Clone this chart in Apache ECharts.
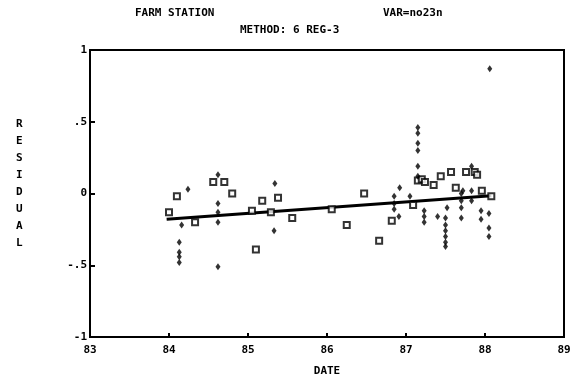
<!DOCTYPE html>
<html><head><meta charset="utf-8">
<script src="https://cdn.jsdelivr.net/npm/echarts@6/dist/echarts.min.js"></script>
<style>html,body{margin:0;padding:0;background:#fff}#c{width:584px;height:383px}</style>
</head><body><div id="c"></div>
<script>
// Open markers (o / squares)
const openX = [84.0,84.1,84.33,84.56,84.7,84.8,85.05,85.18,85.1,85.29,85.38,85.56,86.06,86.25,86.47,86.66,86.82,87.09,87.15,87.2,87.24,87.35,87.44,87.57,87.63,87.76,87.87,87.9,87.96,88.08];
const openY = [-0.13,-0.02,-0.2,0.08,0.08,0.0,-0.12,-0.05,-0.39,-0.13,-0.03,-0.17,-0.11,-0.22,0.0,-0.33,-0.19,-0.08,0.09,0.1,0.08,0.06,0.12,0.15,0.04,0.15,0.15,0.13,0.02,-0.02];
// Plus markers
const plusX = [84.16,84.13,84.13,84.13,84.13,84.24,84.62,84.62,84.62,84.62,84.62,85.34,85.33,86.92,86.85,86.85,86.85,86.91,87.05,87.15,87.15,87.15,87.15,87.15,87.15,87.23,87.23,87.23,87.4,87.52,87.5,87.5,87.5,87.5,87.5,87.5,87.7,87.7,87.7,87.7,87.72,87.83,87.83,87.83,87.95,87.95,88.05,88.05,88.05,88.06];
const plusY = [-0.22,-0.34,-0.41,-0.44,-0.48,0.03,0.13,-0.07,-0.13,-0.2,-0.51,0.07,-0.26,0.04,-0.02,-0.07,-0.11,-0.16,-0.02,0.46,0.42,0.35,0.3,0.19,0.12,-0.12,-0.16,-0.2,-0.16,-0.1,-0.17,-0.22,-0.26,-0.3,-0.34,-0.37,0.0,-0.05,-0.1,-0.17,0.02,0.19,0.02,-0.05,-0.12,-0.18,-0.14,-0.24,-0.3,0.87];
// Regression line endpoints
const fitX = [83.97, 88.08];
const fitY = [-0.18, -0.015];
const xTicks = ['83','84','85','86','87','88','89'];
const yTickLabels = {'1':'1','0.5':'.5','0':'0','-0.5':'-.5','-1':'-1'};

const F = 'DejaVu Sans Mono';
const chart = echarts.init(document.getElementById('c'), null, {renderer:'canvas'});
const zip = (a,b)=>a.map((v,i)=>[v,b[i]]);
chart.setOption({
  animation:false,
  backgroundColor:'#fff',
  grid:{left:90,right:20,top:50,bottom:46,show:true,borderColor:'#000',borderWidth:2},
  xAxis:{type:'value',min:83,max:89,interval:1,
    axisLine:{onZero:false,lineStyle:{color:'#000',width:2}},
    axisTick:{inside:true,length:4,lineStyle:{color:'#000',width:2}},
    splitLine:{show:false},
    axisLabel:{color:'#000',fontFamily:F,fontWeight:'bold',fontSize:11,margin:8,
      formatter:v=>xTicks[Math.round(v-83)]},
    name:'DATE',nameLocation:'middle',nameGap:29,
    nameTextStyle:{color:'#000',fontFamily:F,fontWeight:'bold',fontSize:11}},
  yAxis:{type:'value',min:-1,max:1,interval:0.5,
    axisLine:{onZero:false,lineStyle:{color:'#000',width:2}},
    axisTick:{inside:true,length:5,lineStyle:{color:'#000',width:2}},
    splitLine:{show:false},
    axisLabel:{color:'#000',fontFamily:F,fontWeight:'bold',fontSize:11,margin:3,
      formatter:v=>yTickLabels[String(v)]}},
  graphic:[
    {type:'text',left:135,top:8,style:{text:'FARM STATION',fill:'#000',font:'bold 11px "DejaVu Sans Mono"'}},
    {type:'text',left:383,top:8,style:{text:'VAR=no23n',fill:'#000',font:'bold 11px "DejaVu Sans Mono"'}},
    {type:'text',left:240,top:25,style:{text:'METHOD: 6 REG-3',fill:'#000',font:'bold 11px "DejaVu Sans Mono"'}},
    {type:'text',left:16,top:116,style:{text:'R\nE\nS\nI\nD\nU\nA\nL',fill:'#000',font:'bold 11px "DejaVu Sans Mono"',lineHeight:17}}
  ],
  series:[
    {type:'line',data:zip(fitX,fitY),symbol:'none',lineStyle:{color:'#000',width:3},z:1},
    {type:'scatter',data:zip(openX,openY),symbol:'rect',symbolSize:6,
      itemStyle:{color:'#fff',borderColor:'#000',borderWidth:2},z:3},
    {type:'scatter',data:zip(plusX,plusY),symbol:'diamond',symbolSize:[5,7],
      itemStyle:{color:'#000'},z:3}
  ]
});
</script></body></html>
